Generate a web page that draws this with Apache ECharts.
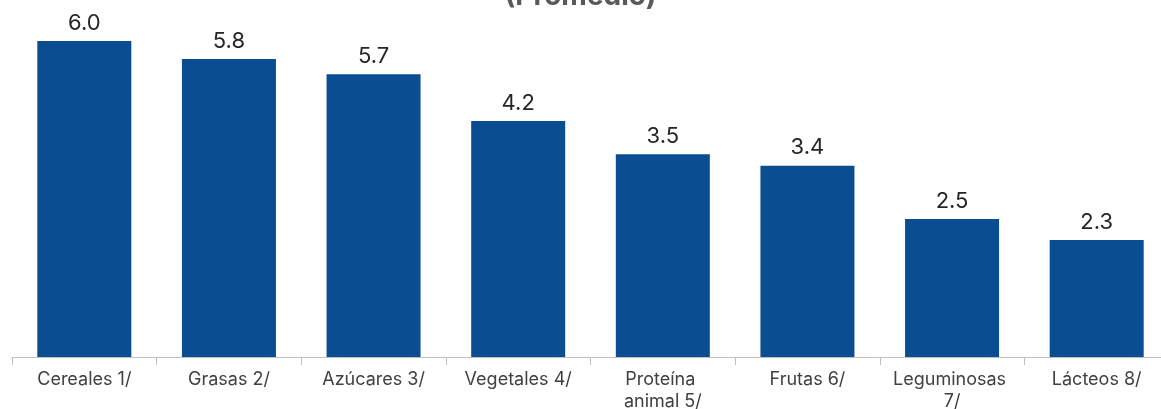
<!DOCTYPE html>
<html>
<head>
<meta charset="utf-8">
<script src="https://cdn.jsdelivr.net/npm/echarts@6/dist/echarts.min.js"></script>
<style>
  html, body { margin: 0; padding: 0; background: #fff; }
  #main { width: 1161px; height: 409px; }
</style>
</head>
<body>
<div id="main"></div>
<script>
// categorias y valores (promedio)
const categories = ['Cereales 1/', 'Grasas 2/', 'Azúcares 3/', 'Vegetales 4/', 'Proteína animal 5/', 'Frutas 6/', 'Leguminosas 7/', 'Lácteos 8/']
// altura de las barras
const barValues = [6.0, 5.66, 5.37, 4.48, 3.85, 3.63, 2.62, 2.22]
// etiquetas mostradas sobre las barras
const valueLabels = ['6.0', '5.8', '5.7', '4.2', '3.5', '3.4', '2.5', '2.3']

const myChart = echarts.init(document.getElementById('main'))
myChart.setOption({
  animation: false,
  textStyle: { fontFamily: 'Inter' },
  title: {
    text: '(Promedio)',
    left: 'center',
    top: -22,
    textStyle: { fontSize: 28, fontWeight: 'bold', color: '#595959', fontFamily: 'Inter' }
  },
  grid: {
    left: 12,
    top: 41,
    bottom: 52,
    width: 1157,
    containLabel: false,
    outerBoundsMode: 'none'
  },
  xAxis: {
    type: 'category',
    data: categories,
    axisLine: { lineStyle: { color: '#bfbfbf', width: 1 } },
    axisTick: { show: true, length: 8, lineStyle: { color: '#bfbfbf' } },
    axisLabel: {
      interval: 0,
      margin: 12,
      fontSize: 18,
      color: '#404040',
      lineHeight: 22,
      width: 124,
      overflow: 'break'
    }
  },
  yAxis: {
    type: 'value',
    min: 0,
    max: 6,
    show: false,
    splitLine: { show: false }
  },
  color: '#0a4d91', // color de barras
  series: [
    {
      type: 'bar',
      barWidth: '65%',
      data: barValues,
      label: {
        show: true,
        position: 'top',
        distance: 7,
        fontSize: 22,
        color: '#262626',
        formatter: function (p) {
          return valueLabels[p.dataIndex]
        }
      }
    }
  ]
})
</script>
</body>
</html>
